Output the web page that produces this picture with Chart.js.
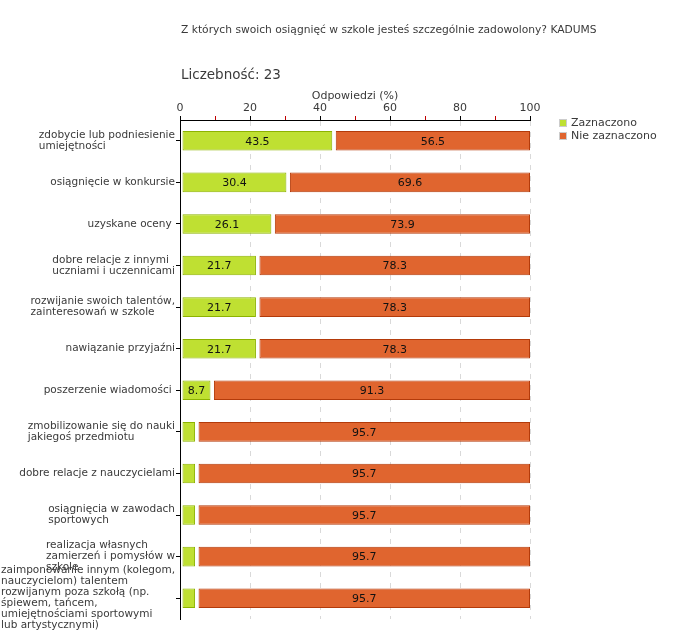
<!DOCTYPE html>
<html><head><meta charset="utf-8">
<script src="https://cdn.jsdelivr.net/npm/chart.js@4/dist/chart.umd.min.js"></script>
<style>html,body{margin:0;padding:0;background:#fff}#wrap{width:680px;height:640px;position:relative}</style>
</head><body><div id="wrap"><canvas id="c" width="680" height="640"></canvas></div>
<script>
const chartTitle = "Z których swoich osiągnięć w szkole jesteś szczególnie zadowolony? KADUMS";
const countLabel = "Liczebność: 23";
const axisTitle = "Odpowiedzi (%)";
const categories = [
  ["zdobycie lub podniesienie", "umiejętności"],
  ["osiągnięcie w konkursie"],
  ["uzyskane oceny "],
  ["dobre relacje z innymi ", "uczniami i uczennicami"],
  ["rozwijanie swoich talentów,", "zainteresowań w szkole"],
  ["nawiązanie przyjaźni"],
  ["poszerzenie wiadomości "],
  ["zmobilizowanie się do nauki", "jakiegoś przedmiotu"],
  ["dobre relacje z nauczycielami"],
  ["osiągnięcia w zawodach", "sportowych"],
  ["realizacja własnych", "zamierzeń i pomysłów w", "szkole"],
  ["zaimponowanie innym (kolegom,", "nauczycielom) talentem", "rozwijanym poza szkołą (np.", "śpiewem, tańcem,", "umiejętnościami sportowymi", "lub artystycznymi)"]
];
const seriesNames = ["Zaznaczono", "Nie zaznaczono"];
const zaznaczono    = [43.5, 30.4, 26.1, 21.7, 21.7, 21.7, 8.7, 4.3, 4.3, 4.3, 4.3, 4.3];
const nieZaznaczono = [56.5, 69.6, 73.9, 78.3, 78.3, 78.3, 91.3, 95.7, 95.7, 95.7, 95.7, 95.7];
const xTickValues = [0, 20, 40, 60, 80, 100];

const FONT = "DejaVu Sans";
const TXT = "#3a3a3a";
const COLORS = ["#bfe032", "#e0652f"];
const BORDERS = ["#8db300", "#b33a0a"];

const headerPlugin = {
  id: "header",
  afterDraw(chart) {
    const ctx = chart.ctx, a = chart.chartArea;
    ctx.save();
    ctx.fillStyle = TXT;
    ctx.textBaseline = "middle";
    ctx.textAlign = "left";
    ctx.font = "10.7px '" + FONT + "'";
    ctx.fillText(chartTitle, a.left + 1, 30);
    ctx.font = "13.5px '" + FONT + "'";
    ctx.fillText(countLabel, a.left + 1, 75);
    // legend
    ctx.font = "11px '" + FONT + "'";
    chart.data.datasets.forEach((ds, i) => {
      const y = 123 + i * 13;
      ctx.fillStyle = "#cccccc";
      ctx.fillRect(559, y - 4, 8, 8);
      ctx.fillStyle = ds.backgroundColor;
      ctx.fillRect(560, y - 3, 6, 6);
      ctx.fillStyle = TXT;
      ctx.fillText(ds.label, 571, y);
    });
    // category labels (left aligned blocks, right edge near axis)
    ctx.font = "10.5px '" + FONT + "'";
    const ys = chart.scales.y;
    const lh = 11;
    categories.forEach((lines, i) => {
      const yc = ys.getPixelForValue(i);
      let w = 0;
      lines.forEach(l => { w = Math.max(w, ctx.measureText(l).width); });
      const x0 = Math.max(0, a.left - 5 - w);
      const top = yc - (lines.length - 1) * lh / 2;
      lines.forEach((l, k) => ctx.fillText(l, x0, top + k * lh));
    });
    ctx.restore();
  }
};

const gapPlugin = {
  id: "gap",
  afterDatasetsUpdate(chart) {
    chart.data.datasets.forEach((ds, di) => {
      const shift = di === 0 ? 2 : 3.5;
      chart.getDatasetMeta(di).data.forEach(el => { el.base = el.base + shift; });
    });
  }
};

const valuePlugin = {
  id: "values",
  afterDatasetsDraw(chart) {
    const ctx = chart.ctx;
    ctx.save();
    ctx.font = "11px '" + FONT + "'";
    ctx.fillStyle = "#111";
    ctx.textAlign = "center";
    ctx.textBaseline = "middle";
    chart.data.datasets.forEach((ds, di) => {
      chart.getDatasetMeta(di).data.forEach((el, i) => {
        const w = Math.abs(el.x - el.base);
        if (w > 26) ctx.fillText(ds.data[i].toFixed(1), (el.x + el.base) / 2, el.y + 1);
      });
    });
    ctx.restore();
  }
};

new Chart(document.getElementById("c"), {
  type: "bar",
  data: {
    labels: categories,
    datasets: [
      { label: seriesNames[0], data: zaznaczono, backgroundColor: COLORS[0], borderColor: BORDERS[0], borderWidth: 1, borderSkipped: false },
      { label: seriesNames[1], data: nieZaznaczono, backgroundColor: COLORS[1], borderColor: BORDERS[1], borderWidth: 1, borderSkipped: false }
    ]
  },
  options: {
    indexAxis: "y",
    responsive: false,
    animation: false,
    devicePixelRatio: 1,
    layout: { padding: { top: 88, right: 150, bottom: 21, left: 0 } },
    datasets: { bar: { barPercentage: 0.47, categoryPercentage: 1 } },
    plugins: { legend: { display: false }, title: { display: false }, tooltip: { enabled: false } },
    scales: {
      x: {
        position: "top", stacked: true, min: 0, max: 100,
        afterFit(s) { s.height = 32; },
        title: { display: true, text: axisTitle, color: TXT, font: { family: FONT, size: 11 }, padding: { top: 2, bottom: 0 } },
        ticks: {
          stepSize: 10, autoSkip: false, maxRotation: 0, padding: 1, color: TXT,
          font: { family: FONT, size: 11 },
          callback: v => (xTickValues.includes(v) ? String(v) : "")
        },
        grid: {
          color: c => (c.tick && c.tick.value % 20 === 0 && c.tick.value !== 0 ? "#d9d9d9" : "rgba(0,0,0,0)"),
          lineWidth: 1,
          tickColor: c => (c.tick && c.tick.value % 20 === 0 ? "#000" : "#c00000"),
          tickLength: 4, tickBorderDash: [], drawTicks: true
        },
        border: { display: true, color: "#000", width: 1, dash: [5, 6] }
      },
      y: {
        stacked: true,
        afterFit(s) { s.width = 180; },
        ticks: { display: false },
        grid: { offset: false, drawOnChartArea: false, drawTicks: true, tickLength: 4, tickColor: "#000" },
        border: { display: true, color: "#000", width: 1 }
      }
    }
  },
  plugins: [gapPlugin, valuePlugin, headerPlugin]
});
</script></body></html>
